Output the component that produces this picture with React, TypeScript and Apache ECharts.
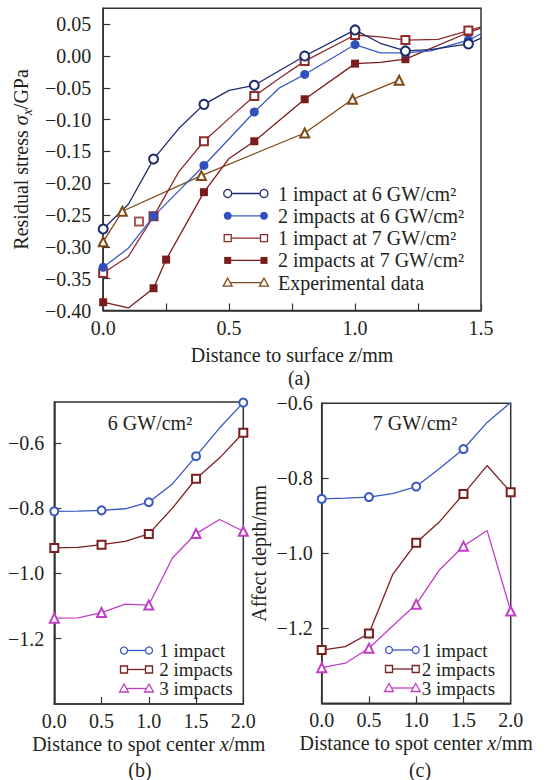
import React, { useEffect, useRef } from "react";
import * as echarts from "echarts";

const FONT = "Liberation Serif, 'Times New Roman', serif";
const TXT = "#231f20";
const AX = "#333333";

// ---- (a) Residual stress vs depth ----
const a1: [number, number][] = [[0, -0.272], [0.1, -0.233], [0.2, -0.162], [0.3, -0.114], [0.4, -0.076], [0.5, -0.054], [0.6, -0.046], [0.8, 0.0], [1.0, 0.041], [1.1, 0.02], [1.2, 0.008], [1.3, 0.01], [1.45, 0.019], [1.5, 0.028]];
const a1Marks = [0, 0.2, 0.4, 0.6, 0.8, 1.0, 1.2, 1.45];
const a2: [number, number][] = [[0, -0.332], [0.1, -0.302], [0.2, -0.252], [0.3, -0.212], [0.4, -0.172], [0.5, -0.13], [0.6, -0.088], [0.7, -0.05], [0.8, -0.029], [1.0, 0.018], [1.1, 0.005], [1.2, 0.005], [1.3, 0.008], [1.45, 0.025], [1.5, 0.035]];
const a2Marks = [0, 0.2, 0.4, 0.6, 0.8, 1.0, 1.2, 1.45];
const a3: [number, number][] = [[0, -0.341], [0.1, -0.315], [0.2, -0.252], [0.3, -0.182], [0.4, -0.134], [0.5, -0.098], [0.6, -0.063], [0.7, -0.035], [0.8, -0.008], [1.0, 0.033], [1.1, 0.03], [1.2, 0.025], [1.33, 0.026], [1.45, 0.04], [1.5, 0.046]];
const a3Marks = [0, 0.2, 0.4, 0.6, 0.8, 1.0, 1.2, 1.45];
const a3Extra: [number, number][] = [[0.142, -0.26]];
const a4: [number, number][] = [[0, -0.387], [0.1, -0.396], [0.2, -0.365], [0.25, -0.32], [0.4, -0.214], [0.5, -0.161], [0.6, -0.134], [0.7, -0.101], [0.8, -0.068], [1.0, -0.012], [1.1, -0.01], [1.2, -0.005], [1.45, 0.037], [1.5, 0.044]];
const a4Marks = [0, 0.2, 0.25, 0.4, 0.6, 0.8, 1.0, 1.2, 1.45];
const a5: [number, number][] = [[0, -0.292], [0.076, -0.244], [0.39, -0.188], [0.8, -0.121], [0.99, -0.068], [1.175, -0.038]];
const a5Marks = [0, 0.076, 0.39, 0.8, 0.99, 1.175];
const aNames = ["1 impact at 6 GW/cm²", "2 impacts at 6 GW/cm²", "1 impact at 7 GW/cm²", "2 impacts at 7 GW/cm²", "Experimental data"];

// ---- (b) 6 GW/cm2 and (c) 7 GW/cm2 affect depth ----
const bcX = [0, 0.25, 0.5, 0.75, 1.0, 1.25, 1.5, 1.75, 2.0];
const bcMarks = [0, 0.5, 1.0, 1.5, 2.0];
const b1 = [-0.81, -0.809, -0.807, -0.802, -0.782, -0.726, -0.641, -0.554, -0.477];
const b2 = [-0.922, -0.92, -0.912, -0.902, -0.879, -0.8, -0.71, -0.646, -0.569];
const b3 = [-1.137, -1.136, -1.12, -1.094, -1.097, -0.953, -0.878, -0.835, -0.871];
const c1 = [-0.855, -0.853, -0.85, -0.841, -0.822, -0.773, -0.722, -0.651, -0.598];
const c2 = [-1.258, -1.249, -1.214, -1.057, -0.972, -0.915, -0.842, -0.766, -0.837];
const c3 = [-1.305, -1.293, -1.253, -1.194, -1.136, -1.043, -0.981, -0.939, -1.154];
const bcNames = ["1 impact", "2 impacts", "3 impacts"];

type Sym = { kind: "circle" | "rect" | "triangle"; filled: boolean; color: string; line: string; size: number };

const aStyles: Sym[] = [
  { kind: "circle", filled: false, color: "#1d2b6b", line: "#1d2b6b", size: 9 },
  { kind: "circle", filled: true, color: "#3050bd", line: "#3a5ac4", size: 9 },
  { kind: "rect", filled: false, color: "#8e2c2c", line: "#8e2c2c", size: 8 },
  { kind: "rect", filled: true, color: "#7a1c1c", line: "#7a1c1c", size: 8 },
  { kind: "triangle", filled: false, color: "#7e4a16", line: "#7e4a16", size: 9 },
];
const bcStyles: Sym[] = [
  { kind: "circle", filled: false, color: "#3a58c4", line: "#3a58c4", size: 8 },
  { kind: "rect", filled: false, color: "#7b1f1f", line: "#7b1f1f", size: 8 },
  { kind: "triangle", filled: false, color: "#c03fc4", line: "#c03fc4", size: 9 },
];

function symName(s: Sym) {
  const base = s.kind;
  return s.filled ? base : "empty" + base.charAt(0).toUpperCase() + base.slice(1);
}

function near(a: number, b: number) {
  return Math.abs(a - b) < 1e-9;
}

function lineSeries(points: [number, number][], marks: number[], s: Sym, gi: number) {
  return {
    type: "line",
    xAxisIndex: gi,
    yAxisIndex: gi,
    data: points.map((p) => ({ value: p, symbol: marks.some((m) => near(m, p[0])) ? symName(s) : "none" })),
    symbol: symName(s),
    symbolSize: s.size,
    showSymbol: true,
    showAllSymbol: true,
    lineStyle: { color: s.line, width: 1.3 },
    itemStyle: { color: s.color, borderColor: s.color, borderWidth: s.filled ? 0 : 1.3 },
    emphasis: { disabled: true },
  };
}

function symGraphic(s: Sym, x: number, y: number) {
  const style = { fill: s.filled ? s.color : "#fff", stroke: s.color, lineWidth: s.filled ? 0 : 1.3 };
  const h = s.size / 2;
  if (s.kind === "circle") return { type: "circle", shape: { cx: x, cy: y, r: h - 0.5 }, style, z: 20 };
  if (s.kind === "rect") return { type: "rect", shape: { x: x - h + 0.5, y: y - h + 0.5, width: s.size - 1, height: s.size - 1 }, style, z: 20 };
  return { type: "polygon", shape: { points: [[x, y - h], [x + h, y + h - 1], [x - h, y + h - 1]] }, style, z: 20 };
}

function legend(names: string[], styles: Sym[], x1: number, x2: number, tx: number, y0: number, dy: number, fs: number) {
  const out: any[] = [];
  names.forEach((n, i) => {
    const y = y0 + dy * i;
    const s = styles[i];
    out.push({ type: "line", shape: { x1, y1: y, x2, y2: y }, style: { stroke: s.line, lineWidth: 1.3 }, z: 19 });
    out.push(symGraphic(s, x1, y));
    out.push(symGraphic(s, x2, y));
    out.push({
      type: "text", x: tx, y, z: 20,
      style: { text: n, fontFamily: FONT, fontSize: fs, fill: TXT, textAlign: "left", textVerticalAlign: "middle", align: "left", verticalAlign: "middle" },
    });
  });
  return out;
}

function label(text: string, x: number, y: number) {
  return {
    type: "text", x, y, z: 20,
    style: { text, fontFamily: FONT, fontSize: 20, fill: TXT, textAlign: "center", textVerticalAlign: "middle", align: "center", verticalAlign: "middle" },
  };
}

function fmt(v: number, d: number) {
  if (Math.abs(v) < 1e-9) v = 0;
  return v.toFixed(d).replace("-", "\u2212");
}

const rich = {
  i: { fontFamily: FONT, fontSize: 20, fontStyle: "italic", color: TXT },
  sub: { fontFamily: FONT, fontSize: 14, fontStyle: "italic", color: TXT, verticalAlign: "bottom", lineHeight: 14 },
};

function xAxis(gi: number, max: number, interval: number, name: string, gap: number, labelFn: (v: number) => string) {
  return {
    type: "value", gridIndex: gi, min: 0, max, interval,
    name, nameLocation: "middle", nameGap: gap,
    nameTextStyle: { fontFamily: FONT, fontSize: 20, color: TXT, lineHeight: 24, rich },
    axisLine: { show: true, onZero: false, lineStyle: { color: AX, width: 1.5 } },
    axisTick: { show: true, inside: true, length: 7, lineStyle: { color: AX, width: 1.2 } },
    axisLabel: { fontFamily: FONT, fontSize: 20, color: TXT, margin: 7, formatter: labelFn },
    splitLine: { show: false },
  };
}

function yAxis(gi: number, min: number, max: number, interval: number, d: number, name: string, gap: number, showMax: boolean, margin: number) {
  return {
    type: "value", gridIndex: gi, min, max, interval,
    name, nameLocation: "middle", nameGap: gap, nameRotate: 90,
    nameTextStyle: { fontFamily: FONT, fontSize: 20, color: TXT, lineHeight: 26, rich: { ...rich, n: { fontFamily: FONT, fontSize: 20, color: TXT, lineHeight: 26 } } },
    axisLine: { show: true, onZero: false, lineStyle: { color: AX, width: 1.5 } },
    axisTick: { show: true, inside: true, length: 7, lineStyle: { color: AX, width: 1.2 } },
    axisLabel: { fontFamily: FONT, fontSize: 20, color: TXT, margin, showMinLabel: d === 2, showMaxLabel: showMax, formatter: (v: number) => fmt(v, d) },
    splitLine: { show: false },
  };
}

export default function App() {
  const ref = useRef<HTMLDivElement>(null);
  useEffect(() => {
    if (!ref.current) return;
    const chart = echarts.init(ref.current, undefined, { renderer: "svg" });
    const gridBase = { show: true, borderColor: AX, borderWidth: 1.5, backgroundColor: "transparent", containLabel: false };
    const bcPts = (ys: number[]) => bcX.map((x, i) => [x, ys[i]] as [number, number]);
    const series: any[] = [
      lineSeries(a5, a5Marks, aStyles[4], 0),
      lineSeries(a4, a4Marks, aStyles[3], 0),
      lineSeries(a3, a3Marks, aStyles[2], 0),
      lineSeries(a2, a2Marks, aStyles[1], 0),
      lineSeries(a1, a1Marks, aStyles[0], 0),
      {
        type: "scatter", xAxisIndex: 0, yAxisIndex: 0, data: a3Extra, symbol: "emptyRect", symbolSize: aStyles[2].size,
        itemStyle: { color: aStyles[2].color, borderColor: aStyles[2].color, borderWidth: 1.3 }, emphasis: { disabled: true },
      },
      lineSeries(bcPts(b3), bcMarks, bcStyles[2], 1),
      lineSeries(bcPts(b2), bcMarks, bcStyles[1], 1),
      lineSeries(bcPts(b1), bcMarks, bcStyles[0], 1),
      lineSeries(bcPts(c3), bcMarks, bcStyles[2], 2),
      lineSeries(bcPts(c2), bcMarks, bcStyles[1], 2),
      lineSeries(bcPts(c1), bcMarks, bcStyles[0], 2),
    ];
    const aLabel = (v: number) => (near(v * 2, Math.round(v * 2)) ? fmt(v, 1) : "");
    chart.setOption({
      animation: false,
      backgroundColor: "#ffffff",
      grid: [
        { ...gridBase, left: 102.3, top: 8.3, width: 378.7, height: 302.2 },
        { ...gridBase, left: 54.3, top: 402, width: 189, height: 302 },
        { ...gridBase, left: 321.7, top: 403.3, width: 189, height: 300 },
      ],
      xAxis: [
        xAxis(0, 1.5, 0.25, "Distance to surface {i|z}/mm", 32, aLabel),
        xAxis(1, 2, 0.5, "Distance to spot center {i|x}/mm", 27, (v: number) => fmt(v, 1)),
        xAxis(2, 2, 0.5, "Distance to spot center {i|x}/mm", 27, (v: number) => fmt(v, 1)),
      ],
      yAxis: [
        yAxis(0, -0.4, 0.075, 0.05, 2, "{n|Residual stress }{i|σ}{sub|x}{n|/GPa}", 66, false, 12),
        yAxis(1, -1.4, -0.475, 0.2, 1, "", 40, false, 10),
        yAxis(2, -1.4, -0.6, 0.2, 1, "Affect depth/mm", 50, true, 9),
      ],
      series,
      graphic: [
        ...legend(aNames, aStyles, 227.7, 264, 278, 193.5, 22.3, 20),
        ...legend(bcNames, bcStyles, 124, 149, 159.3, 650.5, 19, 19),
        ...legend(bcNames, bcStyles, 389, 415.7, 421.7, 650, 19, 19),
        label("6 GW/cm²", 150, 423),
        label("7 GW/cm²", 415, 423),
        label("(a)", 299, 378),
        label("(b)", 140, 770),
        label("(c)", 420, 770),
      ],
    });
    return () => chart.dispose();
  }, []);
  return <div ref={ref} style={{ position: "absolute", left: 0, top: 0, width: 549, height: 780 }} />;
}
